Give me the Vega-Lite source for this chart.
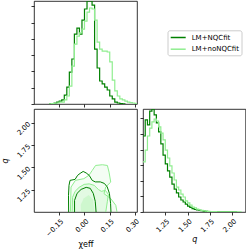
{
  "$schema": "https://vega.github.io/schema/vega-lite/v6.json",
  "padding": 0,
  "background": "white",
  "config": {
    "font": "DejaVu Sans",
    "view": {"stroke": "#000", "strokeWidth": 0.8},
    "axis": {"domain": false, "grid": false, "tickColor": "#000", "tickSize": 3, "tickWidth": 0.8, "labelFont": "DejaVu Sans", "labelFontSize": 7, "labelColor": "#000", "labelOverlap": false, "labelBound": false, "labelFlush": false, "titleFont": "DejaVu Sans", "titleFontSize": 8, "titleFontWeight": "normal", "titleColor": "#000"},
    "legend": {"fillColor": "white", "strokeColor": "#cccccc", "cornerRadius": 2, "padding": 2.2, "symbolSize": 64, "symbolType": "M-1,0H2.75", "symbolStrokeWidth": 1.5, "labelFont": "DejaVu Sans", "labelFontSize": 7, "labelColor": "#000", "labelOffset": 12, "rowPadding": 3.7}
  },
  "datasets": {
    "hist_chi": [
      {"series": "LM+NQCfit", "chi": -0.21, "d": 0.01},
      {"series": "LM+NQCfit", "chi": -0.195, "d": 0.03},
      {"series": "LM+NQCfit", "chi": -0.18, "d": 0.06},
      {"series": "LM+NQCfit", "chi": -0.165, "d": 0.12},
      {"series": "LM+NQCfit", "chi": -0.15, "d": 0.18},
      {"series": "LM+NQCfit", "chi": -0.135, "d": 0.25},
      {"series": "LM+NQCfit", "chi": -0.12, "d": 0.55},
      {"series": "LM+NQCfit", "chi": -0.105, "d": 1.04},
      {"series": "LM+NQCfit", "chi": -0.09, "d": 1.96},
      {"series": "LM+NQCfit", "chi": -0.075, "d": 2.76},
      {"series": "LM+NQCfit", "chi": -0.06, "d": 4.29},
      {"series": "LM+NQCfit", "chi": -0.045, "d": 4.66},
      {"series": "LM+NQCfit", "chi": -0.03, "d": 4.29},
      {"series": "LM+NQCfit", "chi": -0.015, "d": 5.15},
      {"series": "LM+NQCfit", "chi": 0.0, "d": 5.83},
      {"series": "LM+NQCfit", "chi": 0.015, "d": 6.32},
      {"series": "LM+NQCfit", "chi": 0.03, "d": 6.32},
      {"series": "LM+NQCfit", "chi": 0.045, "d": 6.07},
      {"series": "LM+NQCfit", "chi": 0.06, "d": 3.37},
      {"series": "LM+NQCfit", "chi": 0.075, "d": 2.21},
      {"series": "LM+NQCfit", "chi": 0.09, "d": 1.41},
      {"series": "LM+NQCfit", "chi": 0.105, "d": 1.23},
      {"series": "LM+NQCfit", "chi": 0.12, "d": 1.04},
      {"series": "LM+NQCfit", "chi": 0.135, "d": 0.86},
      {"series": "LM+NQCfit", "chi": 0.15, "d": 0.49},
      {"series": "LM+NQCfit", "chi": 0.165, "d": 0.31},
      {"series": "LM+NQCfit", "chi": 0.18, "d": 0.12},
      {"series": "LM+NQCfit", "chi": 0.195, "d": 0.06},
      {"series": "LM+NQCfit", "chi": 0.21, "d": 0.03},
      {"series": "LM+NQCfit", "chi": 0.225, "d": 0.01},
      {"series": "LM+NQCfit", "chi": 0.24, "d": 0},
      {"series": "LM+noNQCfit", "chi": -0.21, "d": 0.01},
      {"series": "LM+noNQCfit", "chi": -0.195, "d": 0.03},
      {"series": "LM+noNQCfit", "chi": -0.18, "d": 0.06},
      {"series": "LM+noNQCfit", "chi": -0.165, "d": 0.06},
      {"series": "LM+noNQCfit", "chi": -0.15, "d": 0.12},
      {"series": "LM+noNQCfit", "chi": -0.135, "d": 0.12},
      {"series": "LM+noNQCfit", "chi": -0.12, "d": 0.25},
      {"series": "LM+noNQCfit", "chi": -0.105, "d": 0.49},
      {"series": "LM+noNQCfit", "chi": -0.09, "d": 1.1},
      {"series": "LM+noNQCfit", "chi": -0.075, "d": 2.33},
      {"series": "LM+noNQCfit", "chi": -0.06, "d": 3.68},
      {"series": "LM+noNQCfit", "chi": -0.045, "d": 4.17},
      {"series": "LM+noNQCfit", "chi": -0.03, "d": 4.36},
      {"series": "LM+noNQCfit", "chi": -0.015, "d": 4.6},
      {"series": "LM+noNQCfit", "chi": 0.0, "d": 5.09},
      {"series": "LM+noNQCfit", "chi": 0.015, "d": 5.64},
      {"series": "LM+noNQCfit", "chi": 0.03, "d": 5.89},
      {"series": "LM+noNQCfit", "chi": 0.045, "d": 5.83},
      {"series": "LM+noNQCfit", "chi": 0.06, "d": 5.15},
      {"series": "LM+noNQCfit", "chi": 0.075, "d": 3.8},
      {"series": "LM+noNQCfit", "chi": 0.09, "d": 3.37},
      {"series": "LM+noNQCfit", "chi": 0.105, "d": 3.25},
      {"series": "LM+noNQCfit", "chi": 0.12, "d": 3.25},
      {"series": "LM+noNQCfit", "chi": 0.135, "d": 3.19},
      {"series": "LM+noNQCfit", "chi": 0.15, "d": 2.58},
      {"series": "LM+noNQCfit", "chi": 0.165, "d": 1.47},
      {"series": "LM+noNQCfit", "chi": 0.18, "d": 0.8},
      {"series": "LM+noNQCfit", "chi": 0.195, "d": 0.49},
      {"series": "LM+noNQCfit", "chi": 0.21, "d": 0.31},
      {"series": "LM+noNQCfit", "chi": 0.225, "d": 0.25},
      {"series": "LM+noNQCfit", "chi": 0.24, "d": 0.18},
      {"series": "LM+noNQCfit", "chi": 0.255, "d": 0.12},
      {"series": "LM+noNQCfit", "chi": 0.27, "d": 0.09},
      {"series": "LM+noNQCfit", "chi": 0.285, "d": 0.06},
      {"series": "LM+noNQCfit", "chi": 0.3, "d": 0.03},
      {"series": "LM+noNQCfit", "chi": 0.315, "d": 0}
    ],
    "hist_q": [
      {"series": "LM+NQCfit", "q": 1.0, "d": 4.87},
      {"series": "LM+NQCfit", "q": 1.025, "d": 5.9},
      {"series": "LM+NQCfit", "q": 1.05, "d": 5.58},
      {"series": "LM+NQCfit", "q": 1.075, "d": 6.47},
      {"series": "LM+NQCfit", "q": 1.1, "d": 6.6},
      {"series": "LM+NQCfit", "q": 1.125, "d": 6.22},
      {"series": "LM+NQCfit", "q": 1.15, "d": 5.71},
      {"series": "LM+NQCfit", "q": 1.175, "d": 5.13},
      {"series": "LM+NQCfit", "q": 1.2, "d": 4.36},
      {"series": "LM+NQCfit", "q": 1.225, "d": 3.65},
      {"series": "LM+NQCfit", "q": 1.25, "d": 3.08},
      {"series": "LM+NQCfit", "q": 1.275, "d": 2.63},
      {"series": "LM+NQCfit", "q": 1.3, "d": 2.24},
      {"series": "LM+NQCfit", "q": 1.325, "d": 1.79},
      {"series": "LM+NQCfit", "q": 1.35, "d": 1.47},
      {"series": "LM+NQCfit", "q": 1.375, "d": 1.22},
      {"series": "LM+NQCfit", "q": 1.4, "d": 0.96},
      {"series": "LM+NQCfit", "q": 1.425, "d": 0.77},
      {"series": "LM+NQCfit", "q": 1.45, "d": 0.64},
      {"series": "LM+NQCfit", "q": 1.475, "d": 0.51},
      {"series": "LM+NQCfit", "q": 1.5, "d": 0.38},
      {"series": "LM+NQCfit", "q": 1.525, "d": 0.29},
      {"series": "LM+NQCfit", "q": 1.55, "d": 0.22},
      {"series": "LM+NQCfit", "q": 1.575, "d": 0.16},
      {"series": "LM+NQCfit", "q": 1.6, "d": 0.13},
      {"series": "LM+NQCfit", "q": 1.625, "d": 0.1},
      {"series": "LM+NQCfit", "q": 1.65, "d": 0.08},
      {"series": "LM+NQCfit", "q": 1.675, "d": 0.06},
      {"series": "LM+NQCfit", "q": 1.7, "d": 0.045},
      {"series": "LM+NQCfit", "q": 1.725, "d": 0.03},
      {"series": "LM+NQCfit", "q": 1.75, "d": 0.025},
      {"series": "LM+NQCfit", "q": 1.775, "d": 0.02},
      {"series": "LM+NQCfit", "q": 1.8, "d": 0.015},
      {"series": "LM+NQCfit", "q": 1.825, "d": 0.01},
      {"series": "LM+NQCfit", "q": 1.85, "d": 0.008},
      {"series": "LM+NQCfit", "q": 1.9, "d": 0.005},
      {"series": "LM+NQCfit", "q": 1.95, "d": 0.003},
      {"series": "LM+NQCfit", "q": 2.0, "d": 0.002},
      {"series": "LM+NQCfit", "q": 2.05, "d": 0},
      {"series": "LM+noNQCfit", "q": 1.0, "d": 3.21},
      {"series": "LM+noNQCfit", "q": 1.025, "d": 3.97},
      {"series": "LM+noNQCfit", "q": 1.05, "d": 4.87},
      {"series": "LM+noNQCfit", "q": 1.075, "d": 5.38},
      {"series": "LM+noNQCfit", "q": 1.1, "d": 5.77},
      {"series": "LM+noNQCfit", "q": 1.125, "d": 5.96},
      {"series": "LM+noNQCfit", "q": 1.15, "d": 5.83},
      {"series": "LM+noNQCfit", "q": 1.175, "d": 5.45},
      {"series": "LM+noNQCfit", "q": 1.2, "d": 5.06},
      {"series": "LM+noNQCfit", "q": 1.225, "d": 4.62},
      {"series": "LM+noNQCfit", "q": 1.25, "d": 3.97},
      {"series": "LM+noNQCfit", "q": 1.275, "d": 3.46},
      {"series": "LM+noNQCfit", "q": 1.3, "d": 2.95},
      {"series": "LM+noNQCfit", "q": 1.325, "d": 2.5},
      {"series": "LM+noNQCfit", "q": 1.35, "d": 2.05},
      {"series": "LM+noNQCfit", "q": 1.375, "d": 1.6},
      {"series": "LM+noNQCfit", "q": 1.4, "d": 1.41},
      {"series": "LM+noNQCfit", "q": 1.425, "d": 1.15},
      {"series": "LM+noNQCfit", "q": 1.45, "d": 0.96},
      {"series": "LM+noNQCfit", "q": 1.475, "d": 0.71},
      {"series": "LM+noNQCfit", "q": 1.5, "d": 0.58},
      {"series": "LM+noNQCfit", "q": 1.525, "d": 0.45},
      {"series": "LM+noNQCfit", "q": 1.55, "d": 0.32},
      {"series": "LM+noNQCfit", "q": 1.575, "d": 0.26},
      {"series": "LM+noNQCfit", "q": 1.6, "d": 0.19},
      {"series": "LM+noNQCfit", "q": 1.625, "d": 0.14},
      {"series": "LM+noNQCfit", "q": 1.65, "d": 0.1},
      {"series": "LM+noNQCfit", "q": 1.675, "d": 0.08},
      {"series": "LM+noNQCfit", "q": 1.7, "d": 0.06},
      {"series": "LM+noNQCfit", "q": 1.725, "d": 0.045},
      {"series": "LM+noNQCfit", "q": 1.75, "d": 0.03},
      {"series": "LM+noNQCfit", "q": 1.775, "d": 0.025},
      {"series": "LM+noNQCfit", "q": 1.8, "d": 0.02},
      {"series": "LM+noNQCfit", "q": 1.825, "d": 0.015},
      {"series": "LM+noNQCfit", "q": 1.85, "d": 0.01},
      {"series": "LM+noNQCfit", "q": 1.9, "d": 0.007},
      {"series": "LM+noNQCfit", "q": 1.95, "d": 0.004},
      {"series": "LM+noNQCfit", "q": 2.0, "d": 0.002},
      {"series": "LM+noNQCfit", "q": 2.1, "d": 0}
    ],
    "contours": [
      {"poly": "l1", "series": "LM+noNQCfit", "i": 0, "chi": -0.084, "q": 0.97},
      {"poly": "l1", "series": "LM+noNQCfit", "i": 1, "chi": -0.08, "q": 1.279},
      {"poly": "l1", "series": "LM+noNQCfit", "i": 2, "chi": -0.054, "q": 1.354},
      {"poly": "l1", "series": "LM+noNQCfit", "i": 3, "chi": -0.004, "q": 1.373},
      {"poly": "l1", "series": "LM+noNQCfit", "i": 4, "chi": 0.026, "q": 1.41},
      {"poly": "l1", "series": "LM+noNQCfit", "i": 5, "chi": 0.046, "q": 1.465},
      {"poly": "l1", "series": "LM+noNQCfit", "i": 6, "chi": 0.066, "q": 1.521},
      {"poly": "l1", "series": "LM+noNQCfit", "i": 7, "chi": 0.106, "q": 1.529},
      {"poly": "l1", "series": "LM+noNQCfit", "i": 8, "chi": 0.136, "q": 1.521},
      {"poly": "l1", "series": "LM+noNQCfit", "i": 9, "chi": 0.146, "q": 1.446},
      {"poly": "l1", "series": "LM+noNQCfit", "i": 10, "chi": 0.156, "q": 1.335},
      {"poly": "l1", "series": "LM+noNQCfit", "i": 11, "chi": 0.126, "q": 1.279},
      {"poly": "l1", "series": "LM+noNQCfit", "i": 12, "chi": 0.116, "q": 1.205},
      {"poly": "l1", "series": "LM+noNQCfit", "i": 13, "chi": 0.156, "q": 1.15},
      {"poly": "l1", "series": "LM+noNQCfit", "i": 14, "chi": 0.186, "q": 1.075},
      {"poly": "l1", "series": "LM+noNQCfit", "i": 15, "chi": 0.196, "q": 0.97},
      {"poly": "l2", "series": "LM+noNQCfit", "i": 0, "chi": -0.074, "q": 0.97},
      {"poly": "l2", "series": "LM+noNQCfit", "i": 1, "chi": -0.071, "q": 1.164},
      {"poly": "l2", "series": "LM+noNQCfit", "i": 2, "chi": -0.056, "q": 1.231},
      {"poly": "l2", "series": "LM+noNQCfit", "i": 3, "chi": -0.032, "q": 1.276},
      {"poly": "l2", "series": "LM+noNQCfit", "i": 4, "chi": -0.002, "q": 1.309},
      {"poly": "l2", "series": "LM+noNQCfit", "i": 5, "chi": 0.028, "q": 1.315},
      {"poly": "l2", "series": "LM+noNQCfit", "i": 6, "chi": 0.058, "q": 1.298},
      {"poly": "l2", "series": "LM+noNQCfit", "i": 7, "chi": 0.082, "q": 1.253},
      {"poly": "l2", "series": "LM+noNQCfit", "i": 8, "chi": 0.1, "q": 1.231},
      {"poly": "l2", "series": "LM+noNQCfit", "i": 9, "chi": 0.124, "q": 1.242},
      {"poly": "l2", "series": "LM+noNQCfit", "i": 10, "chi": 0.142, "q": 1.198},
      {"poly": "l2", "series": "LM+noNQCfit", "i": 11, "chi": 0.136, "q": 1.12},
      {"poly": "l2", "series": "LM+noNQCfit", "i": 12, "chi": 0.124, "q": 0.97},
      {"poly": "d1", "series": "LM+NQCfit", "i": 0, "chi": -0.094, "q": 0.97},
      {"poly": "d1", "series": "LM+NQCfit", "i": 1, "chi": -0.095, "q": 1.186},
      {"poly": "d1", "series": "LM+NQCfit", "i": 2, "chi": -0.092, "q": 1.298},
      {"poly": "d1", "series": "LM+NQCfit", "i": 3, "chi": -0.086, "q": 1.354},
      {"poly": "d1", "series": "LM+NQCfit", "i": 4, "chi": -0.056, "q": 1.365},
      {"poly": "d1", "series": "LM+NQCfit", "i": 5, "chi": -0.041, "q": 1.41},
      {"poly": "d1", "series": "LM+NQCfit", "i": 6, "chi": -0.026, "q": 1.432},
      {"poly": "d1", "series": "LM+NQCfit", "i": 7, "chi": -0.008, "q": 1.454},
      {"poly": "d1", "series": "LM+NQCfit", "i": 8, "chi": 0.01, "q": 1.437},
      {"poly": "d1", "series": "LM+NQCfit", "i": 9, "chi": 0.028, "q": 1.41},
      {"poly": "d1", "series": "LM+NQCfit", "i": 10, "chi": 0.046, "q": 1.354},
      {"poly": "d1", "series": "LM+NQCfit", "i": 11, "chi": 0.064, "q": 1.337},
      {"poly": "d1", "series": "LM+NQCfit", "i": 12, "chi": 0.094, "q": 1.337},
      {"poly": "d1", "series": "LM+NQCfit", "i": 13, "chi": 0.118, "q": 1.32},
      {"poly": "d1", "series": "LM+NQCfit", "i": 14, "chi": 0.135, "q": 1.281},
      {"poly": "d1", "series": "LM+NQCfit", "i": 15, "chi": 0.148, "q": 1.209},
      {"poly": "d1", "series": "LM+NQCfit", "i": 16, "chi": 0.155, "q": 1.097},
      {"poly": "d1", "series": "LM+NQCfit", "i": 17, "chi": 0.158, "q": 0.97},
      {"poly": "d2", "series": "LM+NQCfit", "i": 0, "chi": -0.059, "q": 0.97},
      {"poly": "d2", "series": "LM+NQCfit", "i": 1, "chi": -0.059, "q": 1.13},
      {"poly": "d2", "series": "LM+NQCfit", "i": 2, "chi": -0.044, "q": 1.209},
      {"poly": "d2", "series": "LM+NQCfit", "i": 3, "chi": -0.02, "q": 1.253},
      {"poly": "d2", "series": "LM+NQCfit", "i": 4, "chi": 0.01, "q": 1.276},
      {"poly": "d2", "series": "LM+NQCfit", "i": 5, "chi": 0.034, "q": 1.265},
      {"poly": "d2", "series": "LM+NQCfit", "i": 6, "chi": 0.052, "q": 1.209},
      {"poly": "d2", "series": "LM+NQCfit", "i": 7, "chi": 0.064, "q": 1.12},
      {"poly": "d2", "series": "LM+NQCfit", "i": 8, "chi": 0.07, "q": 0.97},
      {"poly": "core", "series": "fill", "i": 0, "chi": -0.02, "q": 0.97},
      {"poly": "core", "series": "fill", "i": 1, "chi": -0.022, "q": 1.08},
      {"poly": "core", "series": "fill", "i": 2, "chi": -0.005, "q": 1.15},
      {"poly": "core", "series": "fill", "i": 3, "chi": 0.025, "q": 1.19},
      {"poly": "core", "series": "fill", "i": 4, "chi": 0.05, "q": 1.14},
      {"poly": "core", "series": "fill", "i": 5, "chi": 0.06, "q": 0.97}
    ]
  },
  "vconcat": [
    {
      "width": 103,
      "height": 103,
      "data": {"name": "hist_chi"},
      "mark": {"type": "line", "interpolate": "step-after", "strokeWidth": 1.2, "clip": true},
      "encoding": {
        "x": {"field": "chi", "type": "quantitative", "scale": {"domain": [-0.3, 0.312], "nice": false, "zero": false}, "axis": {"values": [-0.15, 0, 0.15, 0.3], "labels": false, "title": null}},
        "y": {"field": "d", "type": "quantitative", "scale": {"domain": [0, 6.32], "nice": false}, "axis": {"values": [0, 1, 2, 3, 4, 5, 6], "labels": false, "title": null}},
        "color": {"field": "series", "type": "nominal", "scale": {"domain": ["LM+NQCfit", "LM+noNQCfit"], "range": ["#008000", "#90ee90"]}, "legend": {"orient": "none", "legendX": 133.5, "legendY": 29.3, "title": null}}
      }
    },
    {
      "hconcat": [
        {
          "width": 103,
          "height": 103,
          "data": {"name": "contours"},
          "encoding": {
            "x": {"field": "chi", "type": "quantitative", "scale": {"domain": [-0.3, 0.312], "nice": false, "zero": false}, "axis": {"values": [-0.15, 0, 0.15, 0.3], "format": ".2f", "labelAngle": 315, "labelAlign": "right", "labelBaseline": "top", "labelPadding": 2, "title": "χeff", "titlePadding": 3}},
            "y": {"field": "q", "type": "quantitative", "scale": {"domain": [1.0, 2.153], "nice": false, "zero": false}, "axis": {"values": [1.25, 1.5, 1.75, 2.0], "format": ".2f", "labelAngle": 315, "labelAlign": "right", "labelBaseline": "middle", "labelPadding": 2, "title": "q", "titleFontStyle": "italic", "titlePadding": 6}},
            "order": {"field": "i", "type": "quantitative"}
          },
          "layer": [
            {
              "transform": [{"filter": "datum.poly === 'l1'"}],
              "mark": {"type": "line", "fill": "#90ee90", "fillOpacity": 0.1, "stroke": null, "clip": true}
            },
            {
              "transform": [{"filter": "datum.poly === 'l2'"}],
              "mark": {"type": "line", "fill": "#90ee90", "fillOpacity": 0.16, "stroke": null, "clip": true}
            },
            {
              "transform": [{"filter": "datum.poly === 'core'"}],
              "mark": {"type": "line", "fill": "#90ee90", "fillOpacity": 0.25, "stroke": null, "clip": true}
            },
            {
              "transform": [{"filter": "datum.poly !== 'core'"}],
              "mark": {"type": "line", "strokeWidth": 1, "clip": true},
              "encoding": {
                "color": {"field": "series", "type": "nominal", "scale": {"domain": ["LM+NQCfit", "LM+noNQCfit"], "range": ["#008000", "#90ee90"]}, "legend": null},
                "detail": {"field": "poly", "type": "nominal"}
              }
            }
          ]
        },
        {
          "width": 102.5,
          "height": 103,
          "data": {"name": "hist_q"},
          "mark": {"type": "line", "interpolate": "step-after", "strokeWidth": 1.2, "clip": true},
          "encoding": {
            "x": {"field": "q", "type": "quantitative", "scale": {"domain": [1.0, 2.15], "nice": false, "zero": false}, "axis": {"values": [1.25, 1.5, 1.75, 2.0], "format": ".2f", "labelAngle": 315, "labelAlign": "right", "labelBaseline": "top", "labelPadding": 2, "title": "q", "titleFontStyle": "italic", "titlePadding": 3}},
            "y": {"field": "d", "type": "quantitative", "scale": {"domain": [0, 6.6], "nice": false}, "axis": {"values": [0, 1, 2, 3, 4, 5, 6], "labels": false, "title": null}},
            "color": {"field": "series", "type": "nominal", "scale": {"domain": ["LM+NQCfit", "LM+noNQCfit"], "range": ["#008000", "#90ee90"]}, "legend": null}
          }
        }
      ],
      "spacing": 6,
      "bounds": "flush",
      "resolve": {"scale": {"x": "independent", "y": "independent"}, "legend": {"color": "independent"}}
    }
  ],
  "spacing": 5,
  "bounds": "flush",
  "resolve": {"scale": {"x": "independent", "y": "independent"}, "legend": {"color": "independent"}}
}
